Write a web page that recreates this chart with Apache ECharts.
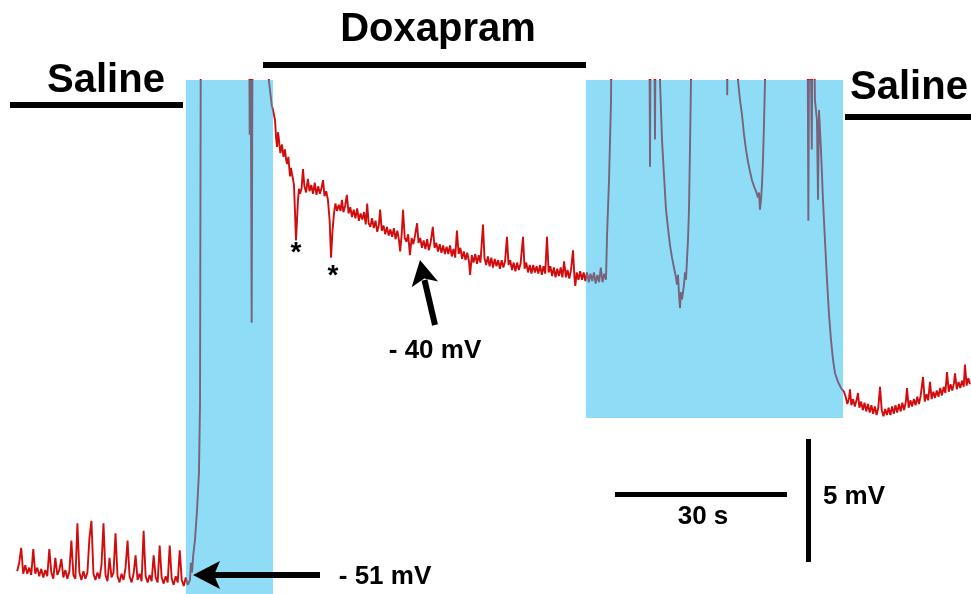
<!DOCTYPE html>
<html>
<head>
<meta charset="utf-8">
<script src="https://cdn.jsdelivr.net/npm/echarts@6/dist/echarts.min.js"></script>
<style>html,body{margin:0;padding:0;background:#fff}#c{width:971px;height:594px}</style>
</head>
<body>
<div id="c"></div>
<script>
// Time in seconds, membrane potential in mV. -25 = off-scale (clipped at the top).
const salineTrace = [[3.0,-50.85],[3.35,-50.5],[3.7,-49.9],[4.05,-50.95],[4.4,-50.6],[4.75,-50.95],[5.1,-50.7],[5.45,-51.0],[5.8,-49.95],[6.15,-50.95],[6.5,-50.7],[6.85,-51.05],[7.2,-50.75],[7.55,-51.1],[7.9,-50.8],[8.25,-51.05],[8.6,-49.95],[8.95,-50.9],[9.3,-51.15],[9.65,-50.3],[10.0,-51.0],[10.35,-50.8],[10.7,-50.35],[11.05,-51.1],[11.4,-50.8],[11.75,-51.15],[12.1,-50.85],[12.45,-49.6],[12.8,-51.0],[13.15,-51.15],[13.5,-48.9],[13.85,-50.9],[14.2,-51.2],[14.55,-50.85],[14.9,-51.15],[15.25,-50.9],[15.6,-49.5],[15.95,-48.8],[16.3,-50.95],[16.65,-51.2],[17.0,-50.9],[17.35,-51.15],[17.7,-50.6],[18.05,-48.9],[18.4,-51.0],[18.75,-51.25],[19.1,-50.3],[19.45,-51.1],[19.8,-50.9],[20.15,-49.3],[20.5,-51.05],[20.85,-51.3],[21.2,-50.95],[21.55,-51.2],[21.9,-50.7],[22.25,-49.6],[22.6,-51.05],[22.95,-51.3],[23.3,-50.95],[23.65,-50.2],[24.0,-51.2],[24.35,-50.95],[24.7,-51.25],[25.05,-49.2],[25.4,-51.05],[25.75,-51.3],[26.1,-51.0],[26.45,-51.25],[26.8,-50.2],[27.15,-51.1],[27.5,-51.3],[27.85,-49.8],[28.2,-51.1],[28.55,-51.35],[28.9,-51.05],[29.25,-51.3],[29.6,-49.8],[29.95,-51.15],[30.3,-51.4],[30.65,-51.05],[31.0,-51.3],[31.35,-50.0],[31.7,-51.2],[32.05,-51.45],[32.4,-51.1],[32.75,-51.4],[33.14,-51.2],[33.3,-50.5],[33.49,-50.9],[33.7,-50.2],[34.0,-49.6],[34.36,-48.4],[34.71,-46.8],[34.89,-44.0],[35.06,-25]];

const doxapramTrace = [[43.4,-25],[43.55,-33.1],[43.65,-25],[43.75,-25],[43.9,-40.75],[44.1,-25],[46.7,-25],[46.9,-30.9],[47.1,-31.3],[47.4,-31.9],[47.62,-32.1],[47.97,-32.5],[48.15,-33.2],[48.32,-33.6],[48.5,-33.0],[48.66,-33.3],[48.9,-33.85],[49.19,-33.5],[49.45,-34.0],[49.71,-33.7],[49.9,-34.1],[50.06,-34.3],[50.3,-34.0],[50.58,-34.8],[50.75,-34.45],[50.93,-34.7],[51.1,-34.9],[51.28,-35.15],[51.45,-36.2],[51.63,-37.4],[51.8,-36.6],[51.98,-35.75],[52.15,-35.3],[52.33,-35.5],[52.6,-35.3],[52.85,-34.5],[53.1,-35.2],[53.4,-35.45],[53.7,-34.9],[54.0,-35.4],[54.3,-35.15],[54.6,-35.5],[54.9,-35.05],[55.2,-35.55],[55.5,-35.2],[55.8,-35.5],[56.1,-35.25],[56.35,-34.95],[56.6,-35.6],[56.9,-35.4],[57.2,-35.75],[57.5,-36.6],[57.74,-38.1],[58.0,-37.0],[58.26,-36.3],[58.5,-35.9],[58.8,-36.2],[59.1,-35.95],[59.4,-36.2],[59.65,-35.75],[59.9,-36.25],[60.2,-36.0],[60.5,-35.55],[60.8,-36.3],[61.1,-36.05],[61.4,-36.45],[61.7,-36.15],[62.0,-36.5],[62.3,-36.1],[62.6,-36.6],[62.9,-36.3],[63.2,-36.55],[63.5,-36.25],[63.8,-36.75],[64.05,-35.9],[64.3,-36.7],[64.6,-36.85],[64.9,-36.5],[65.2,-36.9],[65.5,-36.6],[65.8,-37.05],[66.1,-36.75],[66.3,-36.15],[66.6,-37.0],[66.9,-36.8],[67.2,-37.15],[67.5,-36.85],[67.8,-37.2],[68.1,-36.95],[68.4,-37.25],[68.7,-36.9],[69.0,-37.35],[69.3,-37.0],[69.6,-37.4],[69.8,-37.85],[70.05,-37.2],[70.3,-36.15],[70.6,-37.3],[70.9,-37.45],[71.2,-37.15],[71.5,-38.0],[71.8,-37.3],[72.1,-37.55],[72.4,-37.2],[72.75,-36.7],[73.0,-37.5],[73.3,-37.3],[73.6,-37.7],[73.9,-37.4],[74.2,-37.75],[74.5,-37.35],[74.8,-37.8],[75.1,-37.5],[75.5,-36.85],[75.8,-37.7],[76.1,-37.5],[76.4,-37.85],[76.7,-37.55],[77.0,-37.9],[77.3,-37.6],[77.6,-37.95],[77.9,-37.65],[78.2,-37.95],[78.5,-37.6],[78.8,-38.05],[79.1,-37.75],[79.4,-38.1],[79.7,-37.0],[80.0,-37.95],[80.3,-37.7],[80.6,-38.15],[80.9,-37.85],[81.2,-38.2],[81.5,-37.9],[81.8,-38.25],[82.0,-38.8],[82.3,-38.0],[82.6,-38.3],[82.9,-37.95],[83.2,-38.35],[83.5,-38.0],[83.8,-38.3],[84.25,-36.75],[84.5,-38.1],[84.8,-38.4],[85.1,-38.05],[85.4,-38.45],[85.7,-38.1],[86.0,-38.5],[86.3,-38.15],[86.6,-38.45],[86.9,-38.2],[87.2,-38.55],[87.5,-38.2],[87.8,-38.5],[88.1,-38.25],[88.43,-37.25],[88.7,-38.4],[89.0,-38.2],[89.3,-38.6],[89.6,-38.3],[89.9,-38.65],[90.2,-38.3],[90.5,-38.6],[90.8,-38.35],[91.23,-37.25],[91.5,-38.55],[91.8,-38.3],[92.1,-38.7],[92.4,-38.4],[92.7,-38.75],[93.0,-38.4],[93.3,-38.7],[93.6,-38.45],[93.9,-38.75],[94.2,-38.4],[94.5,-38.8],[94.8,-38.45],[95.1,-38.75],[95.41,-37.25],[95.7,-38.7],[96.0,-38.45],[96.3,-38.85],[96.6,-38.5],[96.9,-38.9],[97.2,-38.55],[97.5,-38.85],[97.8,-38.5],[98.1,-38.9],[98.4,-38.25],[98.7,-38.9],[99.0,-38.6],[99.3,-38.95],[99.6,-38.6],[99.95,-37.8],[100.2,-38.9],[100.35,-39.25],[100.6,-38.7],[100.9,-39.0],[101.2,-38.65],[101.5,-39.0],[101.8,-38.7],[102.1,-39.05],[102.4,-38.7],[102.7,-39.1],[103.0,-38.75],[103.3,-39.05],[103.6,-38.7],[103.9,-39.15],[104.2,-38.8],[104.5,-39.1],[104.8,-38.5],[105.1,-39.1],[105.4,-38.75],[105.7,-39.0],[105.88,-37.25],[106.23,-34.95],[106.58,-31.7],[106.75,-25]];

const burstTrace = [[113.2,-25],[113.38,-34.4],[113.55,-25],[114.0,-25],[114.25,-33.3],[114.45,-25],[114.95,-25],[115.12,-30.9],[115.47,-33.3],[115.82,-34.75],[116.17,-36.15],[116.52,-36.9],[116.87,-37.6],[117.22,-38.1],[117.56,-38.5],[117.91,-38.9],[118.09,-39.2],[118.26,-38.8],[118.44,-39.6],[118.61,-40.15],[118.79,-39.5],[118.96,-39.8],[119.31,-39.2],[119.48,-38.7],[119.66,-39.0],[119.83,-38.2],[120.0,-37.4],[120.18,-36.15],[120.35,-33.7],[120.53,-30.9],[120.7,-25],[126.7,-25],[126.85,-31.5],[127.0,-25],[128.55,-25],[128.73,-30.9],[129.08,-31.7],[129.43,-32.3],[129.78,-33.1],[130.12,-33.7],[130.47,-34.2],[130.82,-34.6],[131.17,-34.95],[131.52,-35.2],[131.87,-35.4],[132.21,-35.65],[132.39,-35.45],[132.56,-36.15],[132.74,-35.75],[132.91,-35.15],[133.09,-34.1],[133.26,-32.7],[133.44,-30.9],[133.6,-25],[140.8,-25],[141.0,-36.6],[141.2,-25],[141.45,-25],[141.6,-33.7],[141.8,-25],[142.15,-31.7],[142.5,-32.5],[142.68,-35.75],[142.86,-32.1],[143.2,-33.7],[143.55,-35.75],[143.9,-37.4],[144.25,-39.0],[144.6,-40.4],[144.95,-41.45],[145.3,-42.25],[145.65,-42.8],[146.17,-43.15],[146.7,-43.4],[147.22,-43.55]];

const washTrace = [[147.5,-43.75],[147.8,-44.05],[148.1,-43.8],[148.26,-43.45],[148.5,-44.1],[148.8,-43.85],[149.1,-44.15],[149.4,-43.9],[149.66,-43.6],[149.9,-44.2],[150.2,-43.95],[150.5,-44.3],[150.8,-44.0],[151.1,-44.35],[151.4,-44.05],[151.7,-44.4],[152.0,-44.1],[152.3,-44.45],[152.6,-44.15],[152.9,-44.5],[153.2,-44.2],[153.5,-43.35],[153.8,-44.3],[154.1,-44.55],[154.4,-44.25],[154.7,-44.5],[155.0,-44.2],[155.3,-44.5],[155.6,-44.15],[155.9,-44.45],[156.2,-44.1],[156.5,-44.4],[156.8,-44.05],[157.1,-44.35],[157.4,-44.0],[157.7,-44.3],[158.0,-43.95],[158.21,-43.4],[158.5,-44.2],[158.8,-43.9],[159.1,-44.15],[159.4,-43.85],[159.7,-44.1],[160.0,-43.75],[160.3,-44.05],[160.6,-43.7],[161.0,-42.95],[161.3,-43.95],[161.6,-43.65],[161.9,-43.9],[162.22,-43.15],[162.5,-43.85],[162.8,-43.55],[163.1,-43.8],[163.4,-43.5],[163.7,-43.75],[164.0,-43.4],[164.3,-43.7],[164.6,-43.35],[164.9,-43.6],[165.18,-42.75],[165.5,-43.55],[165.8,-43.25],[166.1,-43.5],[166.4,-43.2],[166.58,-42.8],[166.9,-43.45],[167.2,-43.15],[167.5,-43.4],[167.8,-43.1],[168.1,-43.35],[168.32,-42.45],[168.6,-43.3],[168.9,-43.0],[169.2,-43.25]];

// shaded periods: [start s, end s, lower mV or null for full height]
const stimStart = [32.44, 102.2];
const stimEnd = [47.62, 147.05];
const stimLow = [null, -44.62];

// axis extent
const tMin = 0, tMax = 169.37;
const vMin = -51.772, vMax = -30.878;

// scale bars: 30 s and 5 mV
const timeBar = [107.27, 137.27, -47.71];
const voltBar = [140.94, -50.47, -45.47];

const trace = salineTrace.concat(doxapramTrace, burstTrace, washTrace);

const areas = stimStart.map((s, i) => stimLow[i] === null
  ? [{xAxis: s}, {xAxis: stimEnd[i]}]
  : [{xAxis: s, yAxis: vMax}, {xAxis: stimEnd[i], yAxis: stimLow[i]}]);

const FONT = 'bold 40px "Liberation Sans", Arial, sans-serif';
const FONT2 = 'bold 26px "Liberation Sans", Arial, sans-serif';

const chart = echarts.init(document.getElementById('c'), null, {renderer: 'canvas'});
chart.setOption({
  animation: false,
  backgroundColor: '#ffffff',
  grid: {left: 0, right: 0, top: 80, bottom: 0},
  xAxis: {type: 'value', min: tMin, max: tMax, show: false},
  yAxis: {type: 'value', min: vMin, max: vMax, show: false},
  series: [{
    type: 'line',
    data: trace,
    showSymbol: false,
    clip: true,
    emphasis: {disabled: true},
    lineStyle: {color: '#d00c0c', width: 1.9, join: 'bevel'},
    markArea: {
      silent: true, z: 5,
      itemStyle: {color: 'rgba(30,185,235,0.5)'},
      data: areas
    },
    markLine: {
      silent: true, z: 6,
      symbol: ['none', 'none'],
      label: {show: false},
      lineStyle: {color: '#000', width: 5, type: 'solid'},
      data: [
        [{coord: [timeBar[0], timeBar[2]]}, {coord: [timeBar[1], timeBar[2]]}],
        [{coord: [voltBar[0], voltBar[1]]}, {coord: [voltBar[0], voltBar[2]]}]
      ]
    }
  }],
  graphic: [
    {type: 'rect', z: 100, shape: {x: 10, y: 102, width: 173, height: 6}, style: {fill: '#000'}},
    {type: 'rect', z: 100, shape: {x: 263, y: 62, width: 323, height: 6}, style: {fill: '#000'}},
    {type: 'rect', z: 100, shape: {x: 845, y: 114, width: 126, height: 6}, style: {fill: '#000'}},
    {type: 'text', z: 100, style: {x: 106, y: 81, text: 'Saline', font: FONT, fill: '#000', textAlign: 'center', textVerticalAlign: 'middle'}},
    {type: 'text', z: 100, style: {x: 438, y: 30, text: 'Doxapram', font: FONT, fill: '#000', textAlign: 'center', textVerticalAlign: 'middle'}},
    {type: 'text', z: 100, style: {x: 909, y: 88, text: 'Saline', font: FONT, fill: '#000', textAlign: 'center', textVerticalAlign: 'middle'}},
    {type: 'text', z: 100, style: {x: 296, y: 253, text: '*', font: 'bold 28px "Liberation Sans", Arial, sans-serif', fill: '#000', textAlign: 'center', textVerticalAlign: 'middle'}},
    {type: 'text', z: 100, style: {x: 333, y: 276, text: '*', font: 'bold 28px "Liberation Sans", Arial, sans-serif', fill: '#000', textAlign: 'center', textVerticalAlign: 'middle'}},
    {type: 'rect', z: 100, shape: {x: 212, y: 572, width: 108, height: 6}, style: {fill: '#000'}},
    {type: 'polygon', z: 100, shape: {points: [[193, 575], [220, 561], [214, 575], [220, 589]]}, style: {fill: '#000'}},
    {type: 'text', z: 100, style: {x: 385, y: 577, text: '- 51 mV', font: FONT2, fill: '#000', textAlign: 'center', textVerticalAlign: 'middle'}},
    {type: 'line', z: 100, shape: {x1: 424.5, y1: 280, x2: 435, y2: 325}, style: {stroke: '#000', lineWidth: 6}},
    {type: 'polygon', z: 100, shape: {points: [[420, 260], [438.1, 281.5], [424.3, 278.5], [411.7, 287.3]]}, style: {fill: '#000'}},
    {type: 'text', z: 100, style: {x: 435, y: 351, text: '- 40 mV', font: FONT2, fill: '#000', textAlign: 'center', textVerticalAlign: 'middle'}},
    {type: 'text', z: 100, style: {x: 703, y: 517, text: '30 s', font: FONT2, fill: '#000', textAlign: 'center', textVerticalAlign: 'middle'}},
    {type: 'text', z: 100, style: {x: 854, y: 497, text: '5 mV', font: FONT2, fill: '#000', textAlign: 'center', textVerticalAlign: 'middle'}}
  ]
});
</script>
</body>
</html>
